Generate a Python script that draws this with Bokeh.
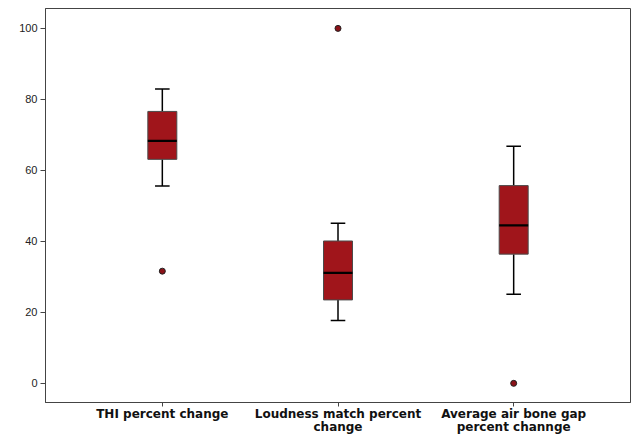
from bokeh.plotting import figure
from bokeh.models import FixedTicker, Range1d
from bokeh.embed import file_html
from bokeh.resources import INLINE

categories = ["THI percent change", "Loudness match percent\nchange", "Average air bone gap\npercent channge"]
lower_whisker = [55.6, 17.7, 25.1]
q1 = [63.1, 23.5, 36.4]
median = [68.3, 31.1, 44.5]
q3 = [76.6, 40.1, 55.7]
upper_whisker = [82.9, 45.1, 66.8]
outlier_group = [0, 1, 2]
outlier_values = [31.6, 100.0, 0.0]
y_ticks = [0, 20, 40, 60, 80, 100]

xs = list(range(1, len(categories) + 1))
ox = [xs[i] for i in outlier_group]

y_lo, y_hi = -5.4, 105.6
p = figure(width=632, height=437, output_backend="svg", toolbar_location=None,
           x_range=Range1d(0.335, 3.665), y_range=Range1d(y_lo, y_hi),
           min_border_left=45, min_border_right=2, min_border_top=8, min_border_bottom=35)
p.xgrid.visible = False
p.ygrid.visible = False
p.background_fill_color = "white"
p.border_fill_color = "white"
p.outline_line_color = "#444444"
p.outline_line_width = 1

fill = "#A0151B"
bw = 0.165
cw = 0.083

# whiskers
p.segment(x0=xs, y0=upper_whisker, x1=xs, y1=q3, line_color="black", line_width=1.5)
p.segment(x0=xs, y0=lower_whisker, x1=xs, y1=q1, line_color="black", line_width=1.5)
p.segment(x0=[x - cw / 2 for x in xs], y0=upper_whisker, x1=[x + cw / 2 for x in xs], y1=upper_whisker,
          line_color="black", line_width=1.5)
p.segment(x0=[x - cw / 2 for x in xs], y0=lower_whisker, x1=[x + cw / 2 for x in xs], y1=lower_whisker,
          line_color="black", line_width=1.5)
# boxes
p.vbar(x=xs, width=bw, bottom=q1, top=q3, fill_color=fill, line_color="#4a4a4a", line_width=1)
# medians
p.segment(x0=[x - bw / 2 for x in xs], y0=median, x1=[x + bw / 2 for x in xs], y1=median,
          line_color="black", line_width=2.2)
# outliers
p.scatter(x=ox, y=outlier_values, size=6, fill_color="#8B1218", line_color="#222222", line_width=1)

ya = p.yaxis[0]
ya.ticker = FixedTicker(ticks=y_ticks)
ya.major_tick_in = 0
ya.major_tick_out = 5
ya.minor_tick_line_color = None
ya.axis_line_color = "#444444"
ya.major_tick_line_color = "#444444"
ya.major_label_text_font = "Liberation Sans"
ya.major_label_text_font_size = "11px"
ya.major_label_text_color = "#222222"
ya.major_label_standoff = 3

xa = p.xaxis[0]
xa.ticker = FixedTicker(ticks=xs)
xa.major_label_overrides = {x: c for x, c in zip(xs, categories)}
xa.major_tick_in = 0
xa.major_tick_out = 4
xa.minor_tick_line_color = None
xa.axis_line_color = "#444444"
xa.major_tick_line_color = "#444444"
xa.major_label_text_font = "DejaVu Sans"
xa.major_label_text_font_style = "bold"
xa.major_label_text_font_size = "12px"
xa.major_label_text_color = "#111111"
xa.major_label_standoff = 0
xa.major_label_text_line_height = 0.95

open("out.html", "w").write(file_html(p, INLINE))
